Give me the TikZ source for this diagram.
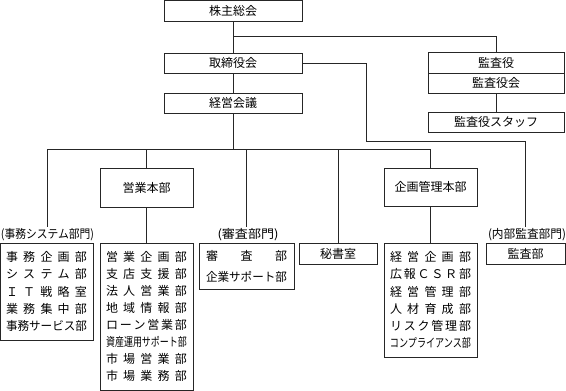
\documentclass[tikz,border=0pt]{standalone}
\usepackage{fontspec}
\setmainfont{Noto Sans CJK JP}
\usepackage{graphicx}
\newcommand\jrow[1]{\makebox[81pt][s]{#1}}
\newcommand\jsq[1]{\resizebox{81pt}{\height}{#1}}
\newcommand\lsq[2]{\resizebox{#1}{\height}{#2}}
\begin{document}
\begin{tikzpicture}[x=1pt,y=-1pt,
  box/.style={draw=black!85, line width=0.6pt, inner sep=0pt, font=\fontsize{12}{14}\selectfont},
  lst/.style={box, align=center, font=\fontsize{12}{17.1}\selectfont},
  lbl/.style={inner xsep=0pt, inner ysep=1.5pt, font=\fontsize{12}{14}\selectfont},
  conn/.style={draw=black!85, line width=0.6pt}]
\useasboundingbox (0,0) rectangle (566,391);
% top chain
\node[box, minimum width=138pt, minimum height=21pt] (s) at (233,10.5) {株主総会};
\node[box, minimum width=138pt, minimum height=20pt] (t) at (233,63) {取締役会};
\node[box, minimum width=138pt, minimum height=20pt] (k) at (233,103) {経営会議};
% auditors
\node[box, minimum width=136pt, minimum height=21pt] (a1) at (496,62.5) {監査役};
\node[box, minimum width=136pt, minimum height=20pt] (a2) at (496,83) {監査役会};
\node[box, minimum width=136pt, minimum height=20pt] (as) at (496,122) {監査役スタッフ};
% divisions
\node[box, minimum width=93pt, minimum height=39pt] (e) at (146.5,187.5) {営業本部};
\node[box, minimum width=93pt, minimum height=38pt] (p) at (430.5,187) {企画管理本部};
% labels
\node[lbl] (jl) at (47.5,235) {\lsq{93pt}{(事務システム部門)}};
\node[lbl] (sl) at (248,235) {\lsq{61pt}{(審査部門)}};
\node[lbl] (nl) at (527,235) {\lsq{78pt}{(内部監査部門)}};
% lower boxes
\node[lst, minimum width=93pt, minimum height=97pt] (j) at (46.5,291.5)
  {\jrow{事 務 企 画 部}\\ \jrow{シ ス テ ム 部}\\ \jrow{Ｉ Ｔ 戦 略 室}\\ \jrow{業 務 集 中 部}\\ \jsq{事務サービス部}};
\node[lst, minimum width=93pt, minimum height=147pt] (el) at (146.5,316.5)
  {\jrow{営 業 企 画 部}\\ \jrow{支 店 支 援 部}\\ \jrow{法 人 営 業 部}\\ \jrow{地 域 情 報 部}\\ \jrow{ロ ー ン 営 業 部}\\ \jsq{資産運用サポート部}\\ \jrow{市 場 営 業 部}\\ \jrow{市 場 業 務 部}};
\node[lst, minimum width=95pt, minimum height=46pt, font=\fontsize{12}{21}\selectfont] (sb) at (246.5,266)
  {\jrow{審 査 部}\\ \jsq{企業サポート部}};
\node[box, minimum width=78pt, minimum height=21pt] (hs) at (338,253.5) {秘書室};
\node[lst, minimum width=93pt, minimum height=114pt] (pl) at (430.5,300)
  {\jrow{経 営 企 画 部}\\ \jrow{広 報 Ｃ Ｓ Ｒ 部}\\ \jrow{経 営 管 理 部}\\ \jrow{人 材 育 成 部}\\ \jrow{リ ス ク 管 理 部}\\ \jsq{コンプライアンス部}};
\node[box, minimum width=79pt, minimum height=21pt] (kb) at (525.5,253.5) {監査部};
% connectors
\coordinate (br) at (233,36);
\coordinate (hl) at (47,149);
\coordinate (hr) at (430.5,149);
\coordinate (hm) at (233,149);
\coordinate (c1) at (366,63);
\coordinate (c2) at (366,141);
\coordinate (c3) at (525.5,141);
\path[conn] (s.south) -- (t.north);
\path[conn] (br) -| (a1.north);
\path[conn] (t.south) -- (k.north);
\path[conn] (k.south) -- (hm);
\path[conn] (hl) -- (hr);
\path[conn] (hl) -- (hl |- jl.north);
\path[conn] (e.north |- hl) -- (e.north);
\path[conn] (246,149) -- (246,0 |- sl.north);
\path[conn] (hs.north |- hl) -- (hs.north);
\path[conn] (hr) -- (p.north);
\path[conn] (e.south) -- (el.north);
\path[conn] (p.south) -- (pl.north);
\path[conn] (a2.south) -- (as.north);
\path[conn] (t.east) -- (c1) -- (c2) -- (c3) -- (c3 |- nl.north);
\end{tikzpicture}
\end{document}
